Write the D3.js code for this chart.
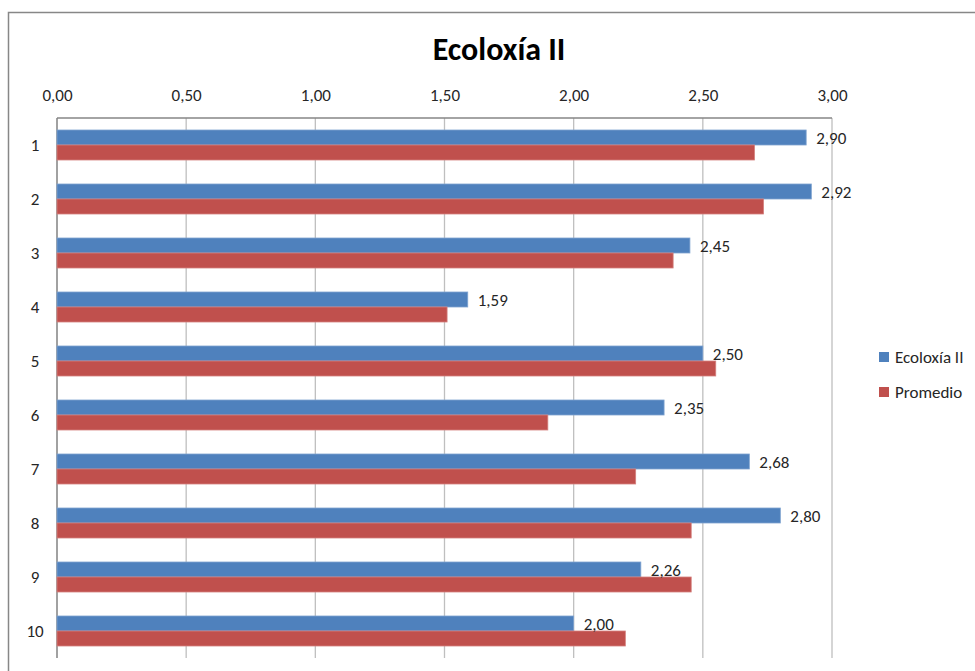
<!DOCTYPE html>
<html><head><meta charset="utf-8">
<script src="https://cdn.jsdelivr.net/npm/d3@7"></script>
<style>
body{margin:0;background:#fff;}
text{font-family:Carlito,Lato,"Open Sans",sans-serif;fill:#262626;}
</style></head>
<body>
<svg id="chart" width="975" height="671"></svg>
<script>
const categories = ["1","2","3","4","5","6","7","8","9","10"];
const seriesNames = ["Ecoloxía II","Promedio"];
const ecoloxia = [2.90,2.92,2.45,1.59,2.50,2.35,2.68,2.80,2.26,2.00];
const promedio = [2.70,2.735,2.385,1.51,2.55,1.90,2.24,2.455,2.455,2.20];
const xTicks = [0,0.5,1,1.5,2,2.5,3];
const colors = ["#4F81BD","#C0504D"];
const title = "Ecoloxía II";

const svg = d3.select("#chart");
const fmt = v => d3.format(".2f")(v).replace(".", ",");
const FONT = "Carlito,Lato,'Open Sans',sans-serif";

// outer chart border
svg.append("rect").attr("x",8.5).attr("y",12.5).attr("width",1000).attr("height",700)
  .attr("fill","none").attr("stroke","#878787").attr("stroke-width",1.5);

const m = {left:57, top:118, right:832, bottom:658};
const x = d3.scaleLinear().domain([0,3]).range([m.left,m.right]);
const y = d3.scaleBand().domain(categories).range([m.top,m.bottom]).paddingInner(0.4444).paddingOuter(0.2222);
const ys = d3.scaleBand().domain(seriesNames).range([0,y.bandwidth()]);

// gridlines
svg.append("g").selectAll("line").data(xTicks).join("line")
  .attr("x1",d=>x(d)).attr("x2",d=>x(d)).attr("y1",m.top).attr("y2",m.bottom)
  .attr("stroke","#BFBFBF").attr("stroke-width",1.3);
// top axis line and left axis line
svg.append("line").attr("x1",m.left).attr("x2",m.right).attr("y1",m.top).attr("y2",m.top)
  .attr("stroke","#868686").attr("stroke-width",1.3);
svg.append("line").attr("x1",m.left).attr("x2",m.left).attr("y1",m.top).attr("y2",m.bottom)
  .attr("stroke","#868686").attr("stroke-width",1.3);

// top axis labels
const xAxis = d3.axisTop(x).tickValues(xTicks).tickFormat(fmt).tickSize(0).tickPadding(0);
const gx = svg.append("g").attr("transform",`translate(0,${m.top-17})`).call(xAxis);
gx.select(".domain").remove();
gx.selectAll("text").attr("font-size",17).attr("fill","#262626").style("font-family",FONT);

// left axis labels
const yAxis = d3.axisLeft(y).tickSize(0).tickPadding(0);
const gy = svg.append("g").attr("transform",`translate(${m.left-17},0)`).call(yAxis);
gy.select(".domain").remove();
gy.selectAll("text").attr("font-size",17).attr("fill","#262626").attr("text-anchor","middle")
  .attr("dx",-5).attr("dy","0.38em").style("font-family",FONT);

// bars
const series = [ecoloxia, promedio];
series.forEach((vals,si)=>{
  svg.append("g").selectAll("rect").data(vals).join("rect")
    .attr("x",x(0)).attr("y",(d,i)=>y(categories[i])+ys(seriesNames[si]))
    .attr("width",d=>x(d)-x(0)).attr("height",ys.bandwidth())
    .attr("fill",colors[si]).attr("stroke", si===0?"#7FA3D0":"#D4807E").attr("stroke-width",0.8);
});

// data labels
svg.append("g").selectAll("text").data(ecoloxia).join("text")
  .attr("x",d=>x(d)+10).attr("y",(d,i)=>y(categories[i])+ys(seriesNames[0])+ys.bandwidth()/2)
  .attr("dy","0.36em").attr("font-size",17).text(d=>fmt(d));

// title
svg.append("text").attr("x",499).attr("y",60).attr("text-anchor","middle")
  .attr("font-size",32).attr("font-weight","bold").attr("fill","#000").style("fill","#000").text(title);

// legend
const lg = svg.append("g");
seriesNames.forEach((n,i)=>{
  const cy = 357 + i*35;
  lg.append("rect").attr("x",879).attr("y",cy-5).attr("width",10).attr("height",10).attr("fill",colors[i]);
  lg.append("text").attr("x",895).attr("y",cy).attr("dy","0.36em").attr("font-size",17).text(n);
});
</script>
</body></html>
